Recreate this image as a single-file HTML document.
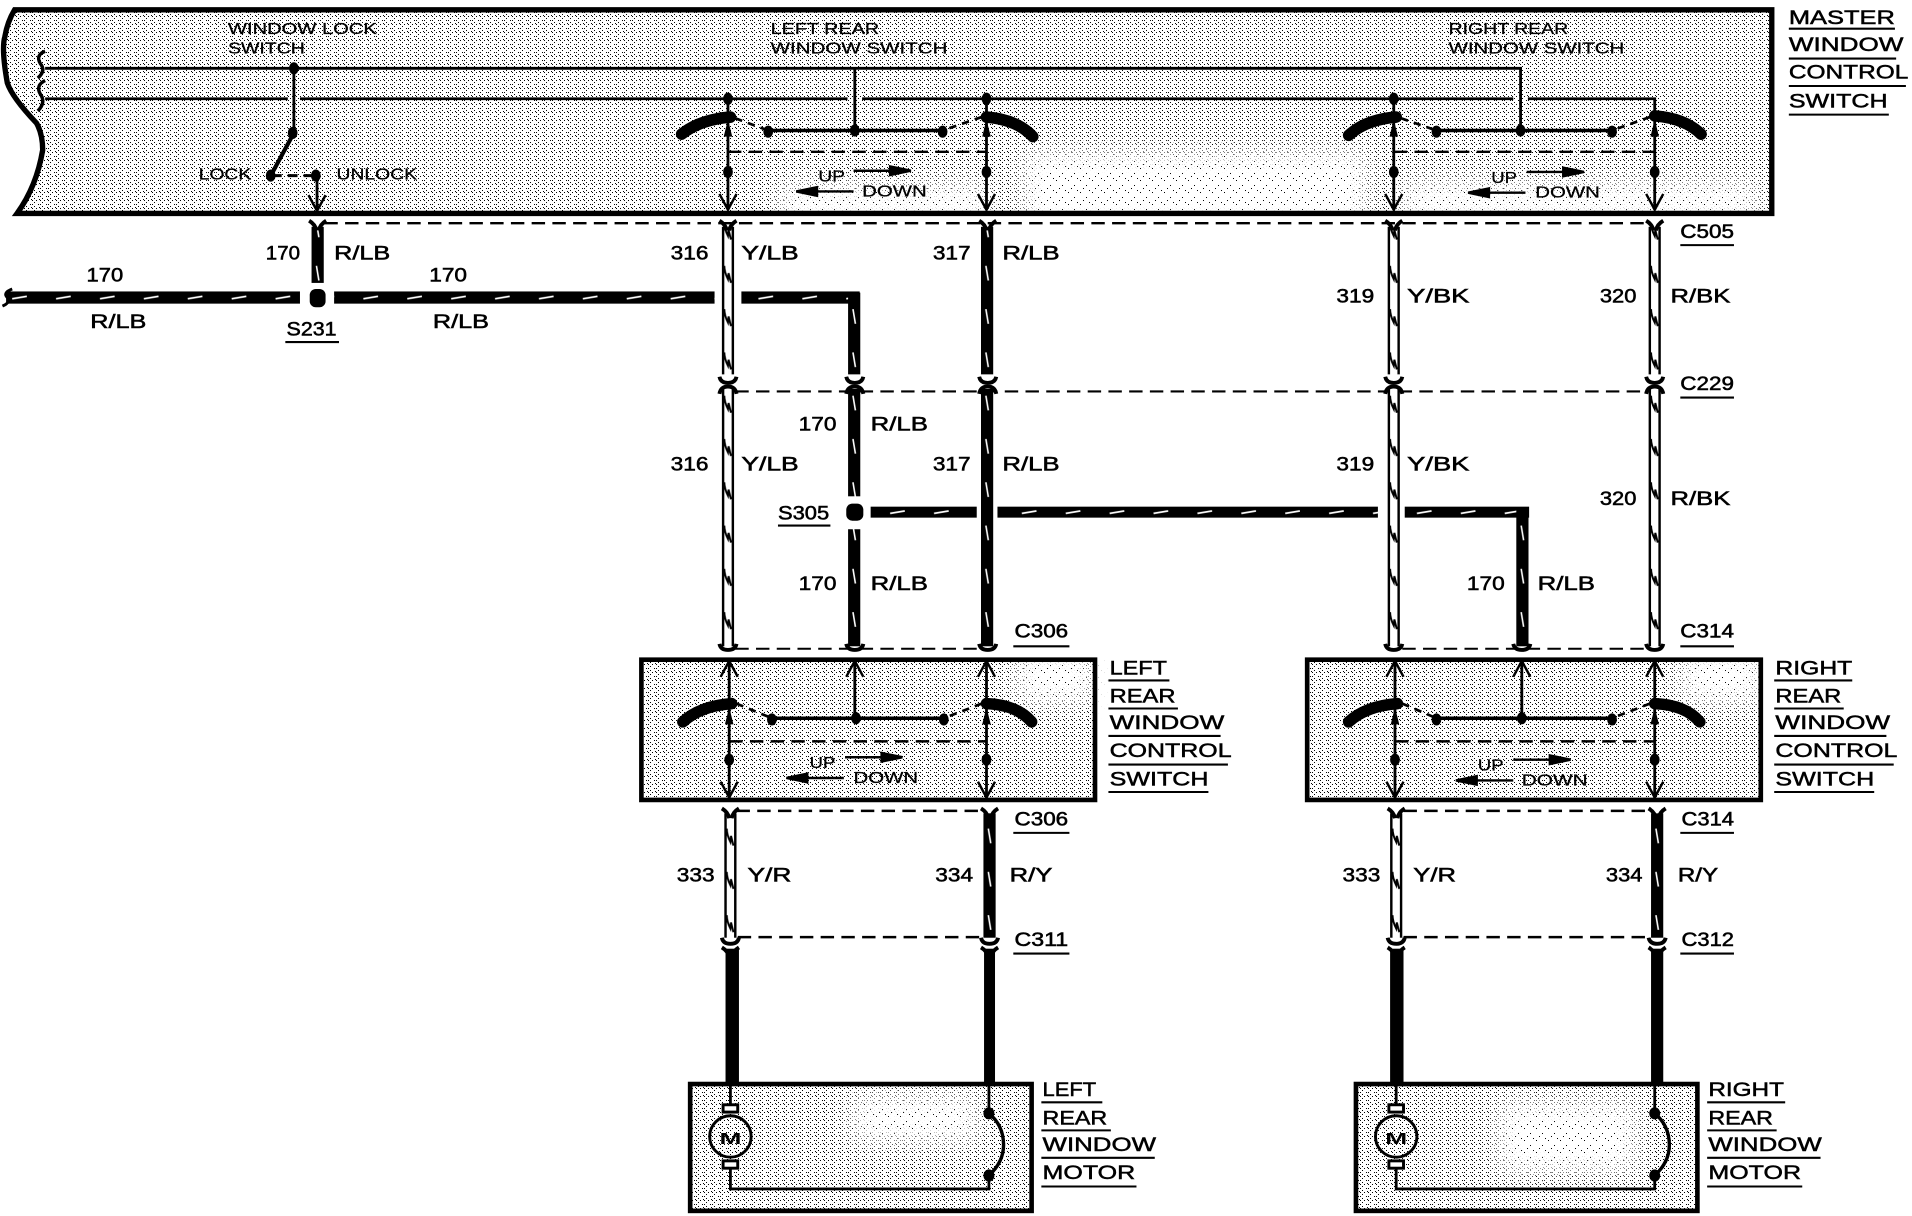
<!DOCTYPE html>
<html><head><meta charset="utf-8"><style>
html,body{margin:0;padding:0;background:#fff}
svg{display:block}
text{font-family:"Liberation Sans",sans-serif;fill:#000}
.n{font-size:16px;stroke:#000;stroke-width:.45px}
.s{font-size:13px;stroke:#000;stroke-width:.2px}
.t{font-size:16px;stroke:#000;stroke-width:.4px}
.w{fill:none;stroke:#000;stroke-width:2.3}
.d{fill:none;stroke:#000;stroke-width:2;stroke-dasharray:11 6}
.u{stroke:#000;stroke-width:1.7}
.b{fill:none;stroke:#000;stroke-width:9.5;stroke-linecap:round}
.c{fill:none;stroke:#000;stroke-width:3.2}
.k{fill:none;stroke:#000;stroke-width:2.2;stroke-dasharray:6 5}
</style></head><body>
<svg xmlns="http://www.w3.org/2000/svg" width="1912" height="1216" viewBox="0 0 1568 997.2">
<defs>
<pattern id="st" patternUnits="userSpaceOnUse" width="6.5606" height="6.5606"><rect width="6.5606" height="6.5606" fill="#fff"/><g fill="#000"><rect width=".8201" height=".8201"/><rect x="3.2803" y="0" width=".8201" height=".8201"/><rect x="1.6401" y="1.6401" width=".8201" height=".8201"/><rect x="4.9205" y="3.2803" width=".8201" height=".8201"/><rect x="0" y="3.2803" width=".8201" height=".8201"/><rect x="1.6401" y="4.9205" width=".8201" height=".8201"/><rect x="5.7405" y="5.7405" width=".8201" height=".8201"/></g></pattern>
<pattern id="sp" patternUnits="userSpaceOnUse" width="9.841" height="9.841"><rect width="9.841" height="9.841" fill="#fff"/><g fill="#000"><rect width=".8201" height=".8201"/><rect x="4.9205" y="4.1004" width=".8201" height=".8201"/><rect x="7.3808" y="8.2" width=".8201" height=".8201"/><rect x="2.4603" y="6.5606" width=".8201" height=".8201"/></g></pattern>
<filter id="bl" x="-30%" y="-60%" width="160%" height="220%"><feGaussianBlur stdDeviation="9"/></filter>
<mask id="mk" maskUnits="userSpaceOnUse" x="0" y="0" width="1568" height="997.2"><g fill="#fff" filter="url(#bl)">
<rect x="640" y="152" width="170" height="30"/>
<rect x="840" y="125" width="280" height="60"/>
<rect x="1150" y="150" width="290" height="30"/>
<rect x="835" y="535" width="60" height="40"/>
<rect x="1380" y="535" width="64" height="40"/>
<rect x="700" y="900" width="100" height="35"/>
<rect x="1230" y="905" width="110" height="55"/>
</g></mask>
<pattern id="dw" patternUnits="userSpaceOnUse" x="-5" y="0" width="10" height="35.5"><rect width="10" height="35.5" fill="#fff"/><rect width="2" height="35.5"/><rect x="8" width="2" height="35.5"/><path d="M2,5 Q2,10 5,16 L5.500,11 L7.500,19" fill="none" stroke="#000" stroke-width="1.6"/></pattern>
<pattern id="bw" patternUnits="userSpaceOnUse" x="-5" y="0" width="10" height="35.5"><rect width="10" height="35.5"/><path d="M4,5 L6,17" stroke="#fff" stroke-width="1.3"/></pattern>
<pattern id="hw" patternUnits="userSpaceOnUse" x="0" y="-5" width="36" height="10"><rect width="36" height="10"/><path d="M10,6 L22,4" stroke="#fff" stroke-width="1.5"/></pattern>
<g id="ym"><path class="c" d="M-7,-4 Q-2,-1 -1,4 M7,-4 Q2,-1 1,4"/></g>
<g id="up"><path class="c" d="M-7,3 Q-6,-3 0,-3 Q6,-3 7,3"/></g>
<g id="dn"><path class="c" d="M-7,-3 Q-6,2 0,2 Q6,2 7,-3"/></g>
<path id="vd" d="M-7,-13 L0,0 L7,-13" fill="none" stroke="#000" stroke-width="2"/>
<path id="vu" d="M-7,13 L0,0 L7,13" fill="none" stroke="#000" stroke-width="2"/>
<ellipse id="dt" rx="4" ry="5" fill="#000"/>
<path id="tr" d="M0,0 L3.500,14 H-3.500Z" fill="#000"/>
<path id="ar" d="M0,0 H30 M30,-3.500 L47,0 L30,3.500Z" fill="#000" stroke="#000" stroke-width="2"/>
<path id="al" d="M0,0 H-30 M-30,-3.500 L-47,0 L-30,3.500Z" fill="#000" stroke="#000" stroke-width="2"/>
<g id="motor">
<path class="w" d="M0,0 V18 M0,70 V86 H212 V75 M212,0 V24"/>
<circle cx="0" cy="43" r="17" fill="none" stroke="#000" stroke-width="2.4"/>
<rect x="-6" y="17" width="12" height="6" fill="#fff" stroke="#000" stroke-width="2.400"/>
<rect x="-6" y="63" width="12" height="6" fill="#fff" stroke="#000" stroke-width="2.400"/>
<path d="M212,24 Q224,34 224,50 Q224,64 212,75" fill="none" stroke="#000" stroke-width="2.800"/>
<ellipse cx="212" cy="24" rx="4.500" ry="5"/><ellipse cx="212" cy="75" rx="4.500" ry="5"/>
<text x="-9" y="49" font-size="13" font-weight="bold" textLength="18" lengthAdjust="spacingAndGlyphs">M</text>
</g>
</defs>
<rect width="1568" height="997.2" fill="#fff"/>

<!-- Boxes -->
<path d="M12,8 H1453 V175 H14 Q30,153 35,123 Q35,110 30,101 Q10,80 6,68 Q1,40 4,30 Q6,18 12,8Z" fill="url(#st)"/>
<rect x="526" y="541" width="372" height="115" fill="url(#st)"/>
<rect x="1072" y="541" width="372" height="115" fill="url(#st)"/>
<rect x="566" y="889" width="280" height="104" fill="url(#st)"/>
<rect x="1112" y="889" width="280" height="104" fill="url(#st)"/>
<!-- sparse stipple regions, softly faded -->
<g mask="url(#mk)"><rect x="520" y="10" width="930" height="165" fill="url(#sp)"/><rect x="526" y="541" width="918" height="115" fill="url(#sp)"/><rect x="566" y="889" width="826" height="104" fill="url(#sp)"/></g>
<path d="M12,8 H1453 V175 H14 Q30,153 35,123 Q35,110 30,101 Q10,80 6,68 Q1,40 4,30 Q6,18 12,8Z" fill="none" stroke="#000" stroke-width="4.4"/>
<rect x="526" y="541" width="372" height="115" fill="none" stroke="#000" stroke-width="3.8"/>
<rect x="1072" y="541" width="372" height="115" fill="none" stroke="#000" stroke-width="3.8"/>
<rect x="566" y="889" width="280" height="104" fill="none" stroke="#000" stroke-width="3.8"/>
<rect x="1112" y="889" width="280" height="104" fill="none" stroke="#000" stroke-width="3.8"/>

<!-- Master internals -->
<path d="M37,42 Q29,45 33,52 Q38,58 31,64 M37,66 Q29,70 33,77 Q38,84 31,91" fill="none" stroke="#000" stroke-width="2.8"/>
<path class="w" d="M37,56 H1247 V107"/>
<path class="w" d="M37,81 H236 M246,81 H695 M707,81 H1241 M1253,81 H1357 V172"/>
<path class="w" d="M241,56 V109 M260,144 V172 M701,56 V107"/>
<path d="M241,109 L221,146" stroke="#000" stroke-width="3.4"/>
<path d="M223,144 H258" stroke="#000" stroke-width="2.4" stroke-dasharray="8 5"/>
<use href="#dt" x="241" y="56"/><use href="#dt" x="240" y="109"/><use href="#dt" x="222" y="144"/><use href="#dt" x="259" y="144"/>
<use href="#vd" x="260" y="173"/>

<!-- Master left rear -->
<path class="w" d="M597,81 V172 M809,81 V172"/>
<path class="b" d="M599,96 Q574,98 559,110"/><path class="b" d="M809,96 Q834,98 847,112"/>
<path class="k" d="M603,97 L630,107 M805,96 L773,107"/>
<path d="M630,107 H773" stroke="#000" stroke-width="2.800"/>
<use href="#dt" x="630" y="108"/><use href="#dt" x="701" y="107"/><use href="#dt" x="773" y="108"/>
<use href="#dt" x="597" y="81"/><use href="#dt" x="809" y="81"/><use href="#dt" x="597" y="141"/><use href="#dt" x="809" y="141"/>
<use href="#tr" x="597" y="98"/><use href="#tr" x="809" y="98"/>
<path class="d" d="M597,124.500 H809"/>
<use href="#vd" x="597" y="172"/><use href="#vd" x="809" y="172"/>
<use href="#ar" x="700" y="140"/><use href="#al" x="700" y="157"/>

<!-- Master right rear -->
<path class="w" d="M1143,81 V172"/>
<path class="b" d="M1145,96 Q1120,98 1106,111"/><path class="b" d="M1357,95 Q1382,97 1395,110"/>
<path class="k" d="M1149,97 L1178,107 M1353,96 L1322,107"/>
<path d="M1178,107 H1322" stroke="#000" stroke-width="2.800"/>
<use href="#dt" x="1178" y="108"/><use href="#dt" x="1247" y="107"/><use href="#dt" x="1322" y="108"/>
<use href="#dt" x="1143" y="81"/><use href="#dt" x="1143" y="141"/><use href="#dt" x="1357" y="141"/>
<use href="#tr" x="1143" y="98"/><use href="#tr" x="1357" y="98"/>
<path class="d" d="M1143,124.500 H1357"/>
<use href="#vd" x="1143" y="172"/><use href="#vd" x="1357" y="172"/>
<use href="#ar" x="1252" y="141"/><use href="#al" x="1251" y="158"/>

<!-- Dashed connectors -->
<path class="d" d="M266,183 H1352"/>
<path class="d" d="M603,321 H1352" style="stroke-width:1.7"/>
<path class="d" d="M603,532 H805 M1150,532 H1352" style="stroke-width:1.7"/>
<path class="d" d="M604,665 H806 M1151,665 H1354"/>
<path class="d" d="M605,768.500 H806 M1151,768.500 H1354"/>

<!-- Horizontal wires -->
<g transform="translate(0,244)"><rect x="5" y="-5" width="241" height="10" fill="url(#hw)"/><rect x="274" y="-5" width="312" height="10" fill="url(#hw)"/><rect x="608" y="-5" width="97" height="10" fill="url(#hw)"/></g>
<path d="M10,237 Q2,240 6,244 Q9,248 2,251" fill="none" stroke="#000" stroke-width="2.4"/>
<g transform="translate(0,420)"><rect x="714" y="-4.500" width="87" height="9" fill="url(#hw)"/><rect x="818" y="-4.500" width="312" height="9" fill="url(#hw)"/><rect x="1152" y="-4.500" width="102" height="9" fill="url(#hw)"/></g>
<rect x="254" y="237" width="13" height="15" rx="5"/>
<rect x="694" y="413" width="14" height="14" rx="5"/>

<!-- Vertical wires -->
<g transform="translate(597,0)"><rect x="-5" y="186" width="10" height="121" fill="url(#dw)"/><rect x="-5" y="319" width="10" height="211" fill="url(#dw)"/></g>
<g transform="translate(1143,0)"><rect x="-5" y="186" width="10" height="121" fill="url(#dw)"/><rect x="-5" y="319" width="10" height="211" fill="url(#dw)"/></g>
<g transform="translate(1357,0)"><rect x="-5" y="186" width="10" height="121" fill="url(#dw)"/><rect x="-5" y="319" width="10" height="211" fill="url(#dw)"/></g>
<g transform="translate(809.500,0)"><rect x="-5" y="186" width="10" height="121" fill="url(#bw)"/><rect x="-5" y="319" width="10" height="211" fill="url(#bw)"/></g>
<g transform="translate(700.500,0)"><rect x="-5" y="240" width="10" height="67" fill="url(#bw)"/><rect x="-5" y="319" width="10" height="88" fill="url(#bw)"/><rect x="-5" y="434" width="10" height="96" fill="url(#bw)"/></g>
<g transform="translate(1248.500,0)"><rect x="-5" y="416" width="10" height="114" fill="url(#bw)"/></g>
<g transform="translate(260.500,0)"><rect x="-5" y="186" width="10" height="46" fill="url(#bw)"/></g>
<g transform="translate(599,0)"><rect x="-5" y="667" width="10" height="102" fill="url(#dw)"/></g>
<g transform="translate(1145,0)"><rect x="-5" y="667" width="10" height="102" fill="url(#dw)"/></g>
<g transform="translate(811.500,0)"><rect x="-5" y="667" width="10" height="102" fill="url(#bw)"/></g>
<g transform="translate(1359,0)"><rect x="-5" y="667" width="10" height="102" fill="url(#bw)"/></g>
<rect x="595" y="778" width="11" height="111"/><rect x="807" y="778" width="9" height="111"/>
<rect x="1140" y="778" width="11" height="111"/><rect x="1354" y="778" width="10" height="111"/>

<!-- Connector marks -->
<use href="#ym" x="260.500" y="185"/><use href="#ym" x="597" y="185"/><use href="#ym" x="810" y="185"/><use href="#ym" x="1143" y="185"/><use href="#ym" x="1357" y="185"/>
<use href="#dn" x="597" y="312"/><use href="#dn" x="701" y="312"/><use href="#dn" x="810" y="312"/><use href="#dn" x="1143" y="312"/><use href="#dn" x="1357" y="312"/>
<use href="#up" x="597" y="320"/><use href="#up" x="701" y="320"/><use href="#up" x="810" y="320"/><use href="#up" x="1143" y="320"/><use href="#up" x="1357" y="320"/>
<use href="#dn" x="597" y="531"/><use href="#dn" x="701" y="531"/><use href="#dn" x="810" y="531"/><use href="#dn" x="1143" y="531"/><use href="#dn" x="1248" y="531"/><use href="#dn" x="1357" y="531"/>
<use href="#ym" x="599" y="667"/><use href="#ym" x="811.500" y="667"/><use href="#ym" x="1145" y="667"/><use href="#ym" x="1359" y="667"/>
<use href="#dn" x="599" y="772"/><use href="#dn" x="811.500" y="772"/><use href="#dn" x="1145" y="772"/><use href="#dn" x="1359" y="772"/>
<use href="#ym" x="599" y="781"/><use href="#ym" x="811.500" y="781"/><use href="#ym" x="1145" y="781"/><use href="#ym" x="1359" y="781"/>

<!-- Left control -->
<path class="w" d="M598,543 V654 M701,543 V589 M809,543 V654"/>
<path class="b" d="M600,577 Q574,579 560,592"/><path class="b" d="M809,577 Q834,578 846,592"/>
<path class="k" d="M604,577 L633,589 M805,577 L774,589"/>
<path d="M633,589 H774" stroke="#000" stroke-width="2.800"/>
<use href="#dt" x="633" y="590"/><use href="#dt" x="702" y="589"/><use href="#dt" x="774" y="590"/>
<use href="#dt" x="598" y="623"/><use href="#dt" x="809" y="623"/>
<use href="#tr" x="598" y="580"/><use href="#tr" x="809" y="580"/>
<path class="d" d="M598,608 H809"/>
<use href="#vu" x="598" y="542"/><use href="#vu" x="701" y="542"/><use href="#vu" x="809" y="542"/>
<use href="#vd" x="598" y="654"/><use href="#vd" x="809" y="654"/>
<use href="#ar" x="693" y="621"/><use href="#al" x="692" y="638"/>

<!-- Right control -->
<path class="w" d="M1144,543 V654 M1248,543 V589 M1357,543 V654"/>
<path class="b" d="M1146,577 Q1120,579 1106,592"/><path class="b" d="M1357,577 Q1382,578 1394,592"/>
<path class="k" d="M1150,577 L1178,589 M1353,577 L1322,589"/>
<path d="M1178,589 H1322" stroke="#000" stroke-width="2.800"/>
<use href="#dt" x="1178" y="590"/><use href="#dt" x="1248" y="589"/><use href="#dt" x="1322" y="590"/>
<use href="#dt" x="1144" y="623"/><use href="#dt" x="1357" y="623"/>
<use href="#tr" x="1144" y="580"/><use href="#tr" x="1357" y="580"/>
<path class="d" d="M1144,608 H1357"/>
<use href="#vu" x="1144" y="542"/><use href="#vu" x="1248" y="542"/><use href="#vu" x="1357" y="542"/>
<use href="#vd" x="1144" y="654"/><use href="#vd" x="1357" y="654"/>
<use href="#ar" x="1241" y="623"/><use href="#al" x="1241" y="640"/>

<!-- Motors -->
<use href="#motor" x="599" y="889"/>
<use href="#motor" x="1145" y="889"/>

<!-- Small text -->
<text class="s" x="187" y="28" textLength="122" lengthAdjust="spacingAndGlyphs">WINDOW LOCK</text>
<text class="s" x="187" y="44" textLength="63" lengthAdjust="spacingAndGlyphs">SWITCH</text>
<text class="s" x="632" y="28" textLength="89" lengthAdjust="spacingAndGlyphs">LEFT REAR</text>
<text class="s" x="632" y="44" textLength="145" lengthAdjust="spacingAndGlyphs">WINDOW SWITCH</text>
<text class="s" x="1188" y="28" textLength="98" lengthAdjust="spacingAndGlyphs">RIGHT REAR</text>
<text class="s" x="1188" y="44" textLength="144" lengthAdjust="spacingAndGlyphs">WINDOW SWITCH</text>
<text class="s" x="163" y="147" textLength="43" lengthAdjust="spacingAndGlyphs">LOCK</text>
<text class="s" x="276" y="147" textLength="66" lengthAdjust="spacingAndGlyphs">UNLOCK</text>
<text class="s" x="671" y="149" textLength="22" lengthAdjust="spacingAndGlyphs">UP</text>
<text class="s" x="707" y="161" textLength="53" lengthAdjust="spacingAndGlyphs">DOWN</text>
<text class="s" x="1223" y="150" textLength="21" lengthAdjust="spacingAndGlyphs">UP</text>
<text class="s" x="1259" y="162" textLength="53" lengthAdjust="spacingAndGlyphs">DOWN</text>
<text class="s" x="664" y="630" textLength="21" lengthAdjust="spacingAndGlyphs">UP</text>
<text class="s" x="700" y="642" textLength="53" lengthAdjust="spacingAndGlyphs">DOWN</text>
<text class="s" x="1212" y="632" textLength="21" lengthAdjust="spacingAndGlyphs">UP</text>
<text class="s" x="1248" y="644" textLength="54" lengthAdjust="spacingAndGlyphs">DOWN</text>

<!-- Wire labels -->
<text class="n" x="71" y="231" textLength="30" lengthAdjust="spacingAndGlyphs">170</text>
<text class="n" x="74" y="269" textLength="46" lengthAdjust="spacingAndGlyphs">R/LB</text>
<text class="n" x="352" y="231" textLength="31" lengthAdjust="spacingAndGlyphs">170</text>
<text class="n" x="355" y="269" textLength="46" lengthAdjust="spacingAndGlyphs">R/LB</text>
<text class="n" x="218" y="213" textLength="28" lengthAdjust="spacingAndGlyphs">170</text>
<text class="n" x="274" y="213" textLength="46" lengthAdjust="spacingAndGlyphs">R/LB</text>
<text class="n" x="235" y="275" textLength="41" lengthAdjust="spacingAndGlyphs">S231</text>
<path class="u" d="M234,280.500 H278"/>
<text class="n" x="550" y="213" textLength="31" lengthAdjust="spacingAndGlyphs">316</text>
<text class="n" x="608" y="213" textLength="47" lengthAdjust="spacingAndGlyphs">Y/LB</text>
<text class="n" x="765" y="213" textLength="31" lengthAdjust="spacingAndGlyphs">317</text>
<text class="n" x="822" y="213" textLength="47" lengthAdjust="spacingAndGlyphs">R/LB</text>
<text class="n" x="1096" y="248" textLength="31" lengthAdjust="spacingAndGlyphs">319</text>
<text class="n" x="1154" y="248" textLength="51" lengthAdjust="spacingAndGlyphs">Y/BK</text>
<text class="n" x="1312" y="248" textLength="30" lengthAdjust="spacingAndGlyphs">320</text>
<text class="n" x="1370" y="248" textLength="49" lengthAdjust="spacingAndGlyphs">R/BK</text>
<text class="n" x="1378" y="195" textLength="44" lengthAdjust="spacingAndGlyphs">C505</text>
<path class="u" d="M1378,201 H1422"/>
<text class="n" x="1378" y="320" textLength="44" lengthAdjust="spacingAndGlyphs">C229</text>
<path class="u" d="M1378,326 H1422"/>
<text class="n" x="655" y="353" textLength="31" lengthAdjust="spacingAndGlyphs">170</text>
<text class="n" x="714" y="353" textLength="47" lengthAdjust="spacingAndGlyphs">R/LB</text>
<text class="n" x="550" y="386" textLength="31" lengthAdjust="spacingAndGlyphs">316</text>
<text class="n" x="608" y="386" textLength="47" lengthAdjust="spacingAndGlyphs">Y/LB</text>
<text class="n" x="765" y="386" textLength="31" lengthAdjust="spacingAndGlyphs">317</text>
<text class="n" x="822" y="386" textLength="47" lengthAdjust="spacingAndGlyphs">R/LB</text>
<text class="n" x="1096" y="386" textLength="31" lengthAdjust="spacingAndGlyphs">319</text>
<text class="n" x="1154" y="386" textLength="51" lengthAdjust="spacingAndGlyphs">Y/BK</text>
<text class="n" x="1312" y="414" textLength="30" lengthAdjust="spacingAndGlyphs">320</text>
<text class="n" x="1370" y="414" textLength="49" lengthAdjust="spacingAndGlyphs">R/BK</text>
<text class="n" x="638" y="426" textLength="42" lengthAdjust="spacingAndGlyphs">S305</text>
<path class="u" d="M638,431 H681"/>
<text class="n" x="655" y="484" textLength="31" lengthAdjust="spacingAndGlyphs">170</text>
<text class="n" x="714" y="484" textLength="47" lengthAdjust="spacingAndGlyphs">R/LB</text>
<text class="n" x="1203" y="484" textLength="31" lengthAdjust="spacingAndGlyphs">170</text>
<text class="n" x="1261" y="484" textLength="47" lengthAdjust="spacingAndGlyphs">R/LB</text>
<text class="n" x="832" y="523" textLength="44" lengthAdjust="spacingAndGlyphs">C306</text>
<path class="u" d="M831,530 H877"/>
<text class="n" x="1378" y="523" textLength="44" lengthAdjust="spacingAndGlyphs">C314</text>
<path class="u" d="M1378,530 H1422"/>
<text class="n" x="832" y="677" textLength="44" lengthAdjust="spacingAndGlyphs">C306</text>
<path class="u" d="M831,683 H877"/>
<text class="n" x="832" y="776" textLength="44" lengthAdjust="spacingAndGlyphs">C311</text>
<path class="u" d="M831,782 H877"/>
<text class="n" x="1379" y="677" textLength="43" lengthAdjust="spacingAndGlyphs">C314</text>
<path class="u" d="M1378,683 H1422"/>
<text class="n" x="1379" y="776" textLength="43" lengthAdjust="spacingAndGlyphs">C312</text>
<path class="u" d="M1378,782 H1422"/>
<text class="n" x="555" y="723" textLength="31" lengthAdjust="spacingAndGlyphs">333</text>
<text class="n" x="613" y="723" textLength="36" lengthAdjust="spacingAndGlyphs">Y/R</text>
<text class="n" x="767" y="723" textLength="31" lengthAdjust="spacingAndGlyphs">334</text>
<text class="n" x="828" y="723" textLength="35" lengthAdjust="spacingAndGlyphs">R/Y</text>
<text class="n" x="1101" y="723" textLength="31" lengthAdjust="spacingAndGlyphs">333</text>
<text class="n" x="1159" y="723" textLength="35" lengthAdjust="spacingAndGlyphs">Y/R</text>
<text class="n" x="1317" y="723" textLength="30" lengthAdjust="spacingAndGlyphs">334</text>
<text class="n" x="1376" y="723" textLength="33" lengthAdjust="spacingAndGlyphs">R/Y</text>

<!-- Title labels -->
<text class="t" x="1467" y="19.500" textLength="87" lengthAdjust="spacingAndGlyphs">MASTER</text><path class="u" d="M1467,23.500 H1554"/>
<text class="t" x="1467" y="42" textLength="94" lengthAdjust="spacingAndGlyphs">WINDOW</text><path class="u" d="M1467,48 H1555"/>
<text class="t" x="1467" y="64.500" textLength="98" lengthAdjust="spacingAndGlyphs">CONTROL</text><path class="u" d="M1467,70.500 H1563"/>
<text class="t" x="1467" y="88" textLength="81" lengthAdjust="spacingAndGlyphs">SWITCH</text><path class="u" d="M1467,94 H1549"/>

<text class="t" x="910" y="553" textLength="47" lengthAdjust="spacingAndGlyphs">LEFT</text><path class="u" d="M909,558 H959"/>
<text class="t" x="910" y="576" textLength="54" lengthAdjust="spacingAndGlyphs">REAR</text><path class="u" d="M909,581 H966"/>
<text class="t" x="910" y="598" textLength="94" lengthAdjust="spacingAndGlyphs">WINDOW</text><path class="u" d="M909,603.500 H1001"/>
<text class="t" x="910" y="621" textLength="100" lengthAdjust="spacingAndGlyphs">CONTROL</text><path class="u" d="M909,627 H1007"/>
<text class="t" x="910" y="644" textLength="81" lengthAdjust="spacingAndGlyphs">SWITCH</text><path class="u" d="M909,649.500 H991"/>

<text class="t" x="1456" y="553" textLength="63" lengthAdjust="spacingAndGlyphs">RIGHT</text><path class="u" d="M1455,558 H1519"/>
<text class="t" x="1456" y="576" textLength="54" lengthAdjust="spacingAndGlyphs">REAR</text><path class="u" d="M1455,581 H1512"/>
<text class="t" x="1456" y="598" textLength="94" lengthAdjust="spacingAndGlyphs">WINDOW</text><path class="u" d="M1455,603.500 H1547"/>
<text class="t" x="1456" y="621" textLength="100" lengthAdjust="spacingAndGlyphs">CONTROL</text><path class="u" d="M1455,627 H1553"/>
<text class="t" x="1456" y="644" textLength="81" lengthAdjust="spacingAndGlyphs">SWITCH</text><path class="u" d="M1455,649.500 H1537"/>

<text class="t" x="855" y="899" textLength="44" lengthAdjust="spacingAndGlyphs">LEFT</text><path class="u" d="M854,904 H904"/>
<text class="t" x="855" y="922" textLength="53" lengthAdjust="spacingAndGlyphs">REAR</text><path class="u" d="M854,927 H911"/>
<text class="t" x="855" y="944" textLength="93" lengthAdjust="spacingAndGlyphs">WINDOW</text><path class="u" d="M854,949.500 H947"/>
<text class="t" x="855" y="967" textLength="76" lengthAdjust="spacingAndGlyphs">MOTOR</text><path class="u" d="M854,973 H932"/>

<text class="t" x="1401" y="899" textLength="62" lengthAdjust="spacingAndGlyphs">RIGHT</text><path class="u" d="M1400,904 H1464"/>
<text class="t" x="1401" y="922" textLength="53" lengthAdjust="spacingAndGlyphs">REAR</text><path class="u" d="M1400,927 H1457"/>
<text class="t" x="1401" y="944" textLength="93" lengthAdjust="spacingAndGlyphs">WINDOW</text><path class="u" d="M1400,949.500 H1493"/>
<text class="t" x="1401" y="967" textLength="76" lengthAdjust="spacingAndGlyphs">MOTOR</text><path class="u" d="M1400,973 H1478"/>
</svg>
</body></html>
